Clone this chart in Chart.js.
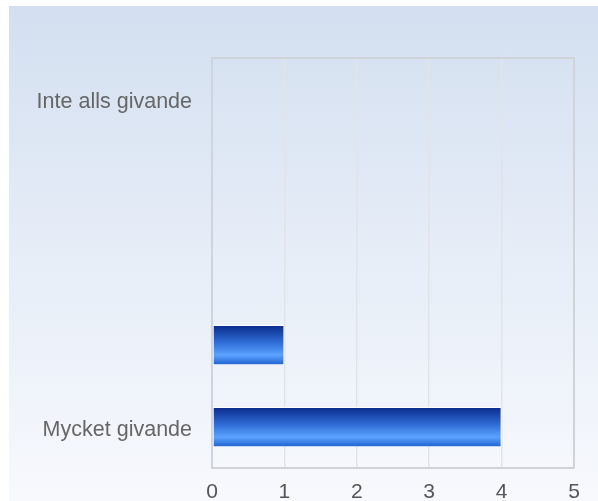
<!DOCTYPE html>
<html>
<head>
<meta charset="utf-8">
<script src="https://cdn.jsdelivr.net/npm/chart.js@4"></script>
<style>
  html, body { margin: 0; padding: 0; background: #fff; }
  #wrap {
    position: absolute; left: 9px; top: 6px; width: 589px; height: 495px;
    background: linear-gradient(to bottom, #d3dff0 0%, #e6edf7 50%, #f7f9fd 100%);
  }
</style>
</head>
<body>
<div id="wrap"><canvas id="chart" width="589" height="495"></canvas></div>
<script>
const categories = ['Inte alls givande', '', '', '', 'Mycket givande'];
const answers = [0, 0, 0, 1, 4];
const xTicks = [0, 1, 2, 3, 4, 5];

// vertical gradient per bar, built from the bar's own category position
function barFill(ctx) {
  const chart = ctx.chart;
  if (!chart.chartArea || !chart.scales.y) return '#2f6fd8';
  const yScale = chart.scales.y;
  const mid = yScale.getPixelForValue(ctx.dataIndex);
  const half = 20;
  const g = chart.ctx.createLinearGradient(0, mid - half, 0, mid + half);
  g.addColorStop(0, '#0a2a8a');
  g.addColorStop(0.45, '#306fd8');
  g.addColorStop(0.75, '#5ba3ff');
  g.addColorStop(1, '#1d5fcc');
  return g;
}

const ctx = document.getElementById('chart').getContext('2d');
new Chart(ctx, {
  type: 'bar',
  data: {
    labels: categories,
    datasets: [{
      data: answers,
      backgroundColor: barFill,
      borderColor: '#ffffff',
      borderWidth: 1,
      borderSkipped: false,
      barPercentage: 0.49,
      categoryPercentage: 1
    }]
  },
  options: {
    indexAxis: 'y',
    responsive: false,
    animation: false,
    layout: { padding: { top: 52, right: 24, left: 0, bottom: 0 } },
    plugins: { legend: { display: false }, tooltip: { enabled: false } },
    scales: {
      y: {
        afterFit: s => { s.width = 203; },
        grid: { display: false, drawTicks: false },
        border: { color: '#cdd3df', width: 2 },
        ticks: {
          autoSkip: false,
          padding: 20,
          labelOffset: 3,
          color: '#666',
          font: { family: 'Liberation Sans, Arial, sans-serif', size: 21.5 }
        }
      },
      x: {
        min: 0,
        max: 5,
        afterBuildTicks: s => { s.ticks = xTicks.map(v => ({ value: v })); },
        afterFit: s => { s.height = 32; },
        grid: { color: '#e2e4e8', lineWidth: 1.5, drawTicks: false },
        border: { color: '#cfd1d6', width: 2 },
        ticks: {
          padding: 12,
          color: '#555',
          font: { family: 'Liberation Sans, Arial, sans-serif', size: 21 }
        }
      }
    }
  },
  plugins: [{
    id: 'frame',
    afterDraw(chart) {
      const a = chart.chartArea, c = chart.ctx;
      c.save();
      c.strokeStyle = '#d0d3d8';
      c.lineWidth = 2;
      c.beginPath();
      c.moveTo(a.left, a.top);
      c.lineTo(a.right, a.top);
      c.lineTo(a.right, a.bottom);
      c.stroke();
      c.restore();
    }
  }]
});
</script>
</body>
</html>
